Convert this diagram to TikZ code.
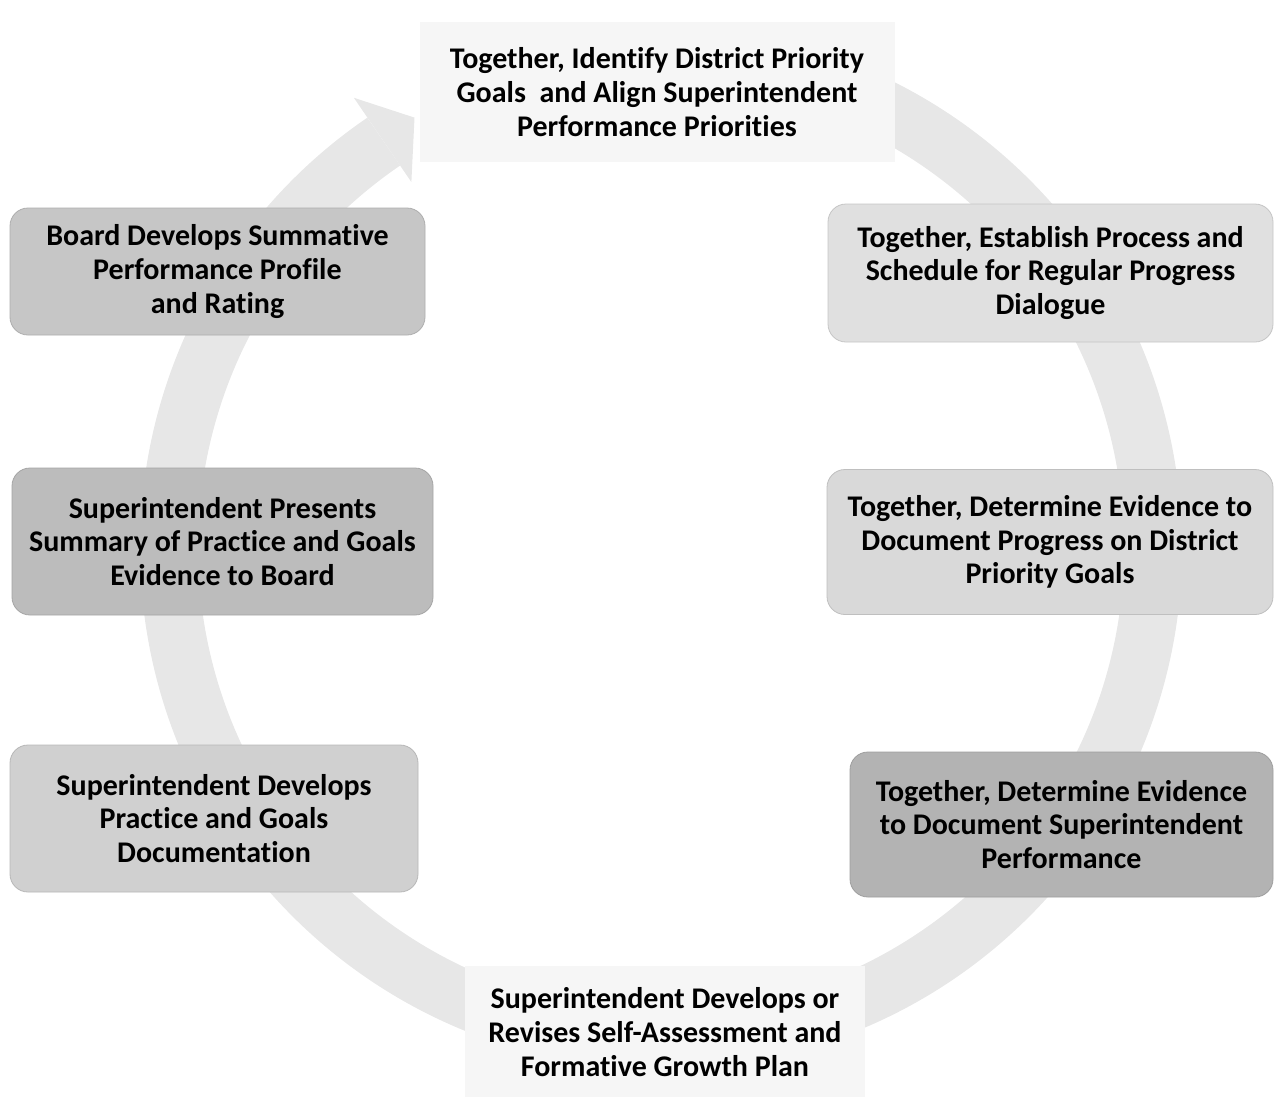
\documentclass[tikz,border=0pt]{standalone}
\usepackage{fontspec}
\newfontfamily\cfont[Ligatures=NoCommon]{Carlito}
\usetikzlibrary{calc}
\definecolor{ringcol}{HTML}{E7E7E7}
\definecolor{endcol}{HTML}{F6F6F6}
\definecolor{cBoard}{HTML}{C6C6C6}
\definecolor{cPresent}{HTML}{BCBCBC}
\definecolor{cDevelop}{HTML}{D0D0D0}
\definecolor{cEstab}{HTML}{E0E0E0}
\definecolor{cProgress}{HTML}{D9D9D9}
\definecolor{cDetSup}{HTML}{B3B3B3}
\begin{document}
\begin{tikzpicture}[x=1pt,y=1pt,
  txt/.style={align=center,font=\cfont\bfseries\fontsize{30}{33.8}\selectfont,text=black,inner sep=0pt},
  stepbox/.style={txt,rounded corners=18pt,draw=#1!88!black,line width=0.8pt,fill=#1},
  endbox/.style={txt,fill=endcol}]
\useasboundingbox (0,0) rectangle (1275,-1096);
\coordinate (C) at (661,-548);
% ring with arrow
\draw[ringcol,line width=58pt] ($(C)+(95:492pt)$) arc[start angle=95,end angle=-235.7,radius=492pt];
\fill[ringcol] ($(C)+(124.3:443pt)$) -- ($(C)+(124.3:545pt)$) -- ($(C)+(119.8:496pt)$) -- cycle;
% end nodes
\node[endbox,minimum width=475pt,minimum height=140pt] (top) at (657,-92)
  {Together, Identify District Priority\\Goals~ and Align Superintendent\\Performance Priorities};
\node[endbox,minimum width=400pt,minimum height=133pt] (bot) at (665,-1032)
  {Superintendent Develops or\\Revises Self-Assessment and\\Formative Growth Plan};
% boxes
\node[stepbox=cBoard,minimum width=415pt,minimum height=127pt] (board) at (217.5,-271.5)
  {Board Develops Summative\\Performance Profile\\and Rating};
\node[stepbox=cPresent,minimum width=421pt,minimum height=147pt] (present) at (222.5,-541.5)
  {Superintendent Presents\\Summary of Practice and Goals\\Evidence to Board};
\node[stepbox=cDevelop,minimum width=408pt,minimum height=147pt] (develop) at (214,-818.5)
  {Superintendent Develops\\Practice and Goals\\Documentation};
\node[stepbox=cEstab,minimum width=445pt,minimum height=138pt] (estab) at (1050.5,-273)
  {Together, Establish Process and\\Schedule for Regular Progress\\Dialogue};
\node[stepbox=cProgress,minimum width=446pt,minimum height=145pt] (progress) at (1050,-542)
  {Together, Determine Evidence to\\Document Progress on District\\Priority Goals};
\node[stepbox=cDetSup,minimum width=423pt,minimum height=145pt] (detsup) at (1061.5,-824.5)
  {Together, Determine Evidence\\to Document Superintendent\\Performance};
\end{tikzpicture}
\end{document}
